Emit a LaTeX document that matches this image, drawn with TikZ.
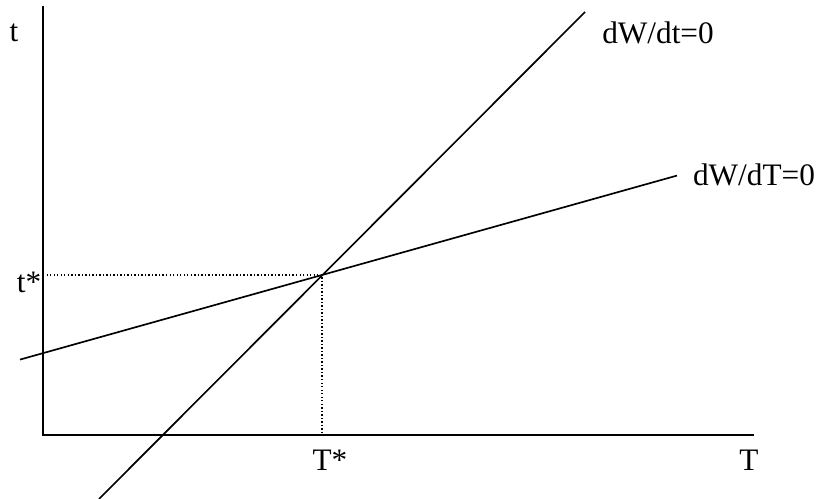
\documentclass[tikz,border=0pt]{standalone}
\usepackage{fontspec}
\setmainfont{Liberation Serif}
\tikzset{
  ax/.style={line width=1.2pt},
  crv/.style={line width=0.95pt},
  guide/.style={dash pattern=on 0.8pt off 1.2pt, line width=0.8pt},
  lbl/.style={font=\fontsize{17.8}{20}\selectfont, inner sep=0pt},
}
\begin{document}
\begin{tikzpicture}[x=0.02cm,y=0.02cm]
  \useasboundingbox (0,0) rectangle (819,499);
  % axes
  \coordinate (O) at (43,64);
  \coordinate (ttop) at (43,493);
  \coordinate (Tend) at (754,64);
  \draw[ax] (ttop) -- (O) -- (Tend);
  % equilibrium
  \coordinate (E) at (322,224);
  \coordinate (Et) at (43,224);
  \coordinate (ET) at (322,64);
  \draw[guide] (Et) -- (E) -- (ET);
  % the two curves
  \coordinate (Da) at (99,0);
  \coordinate (Db) at (585,487);
  \draw[crv] (Da) -- (Db);
  \coordinate (Ta) at (20,139.4);
  \coordinate (Tb) at (677,323.4);
  \draw[crv] (Ta) -- (Tb);
  % labels
  \node[lbl] (tlab) at (14,466) {t};
  \node[lbl] (tstar) at (29,217) {t*};
  \node[lbl] (Tstar) at (330,39) {T*};
  \node[lbl] (Tlab) at (749,39) {T};
  \node[lbl] (dtlab) at (658,466) {dW/dt=0};
  \node[lbl] (dTlab) at (754,324) {dW/dT=0};
\end{tikzpicture}
\end{document}
